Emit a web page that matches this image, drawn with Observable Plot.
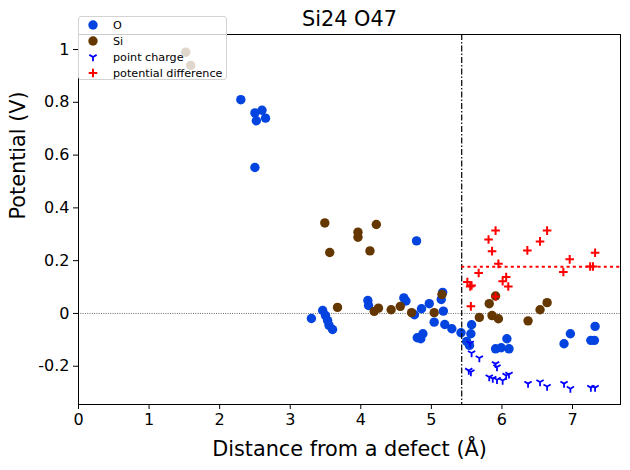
<!DOCTYPE html>
<html>
<head>
<meta charset="utf-8">
<script src="https://cdn.jsdelivr.net/npm/d3@7"></script>
<script src="https://cdn.jsdelivr.net/npm/@observablehq/plot@0.6"></script>
<style>
  body { margin: 0; background: #fff; font-family: "DejaVu Sans", sans-serif; }
  #wrap { position: relative; width: 630px; height: 470px; }
  .legend {
    position: absolute; left: 78px; top: 16px; width: 149px; height: 64px;
    box-sizing: border-box; background: rgba(255,255,255,0.8);
    border: 1px solid #d3d3d3; border-radius: 3px;
  }
  .legend svg { position: absolute; left: 0; top: 0; }
</style>
</head>
<body>
<div id="wrap"></div>
<script>
// Oxygen sites: distance from the defect (Å) and potential (V)
const oDist = [2.30, 2.50, 2.60, 2.52, 2.65, 2.50,
  3.30, 3.46, 3.50, 3.53, 3.55, 3.60, 4.10, 4.11, 4.79,
  4.61, 4.64, 4.76, 4.86, 4.97, 5.04, 5.16, 5.14, 5.17, 5.19, 5.29, 5.42,
  4.80, 4.88, 4.85,
  5.57, 5.56, 5.50, 5.54, 6.07, 5.91, 5.99, 6.10, 6.88, 6.97, 7.26, 7.31, 7.32];
const oPot = [0.81, 0.76, 0.77, 0.73, 0.74, 0.553,
  -0.019, 0.011, -0.008, -0.027, -0.045, -0.061, 0.049, 0.030, 0.275,
  0.059, 0.047, -0.005, 0.018, 0.037, -0.033, 0.080, 0.053, 0.009, -0.042, -0.058, -0.073,
  -0.092, -0.077, -0.096,
  -0.043, -0.077, -0.106, -0.121, -0.096, -0.134, -0.130, -0.134, -0.115, -0.077, -0.102, -0.102, -0.049];

// Silicon sites
const siDist = [1.52, 1.59, 3.49, 3.96, 3.96, 4.22, 3.56, 4.13,
  3.67, 4.19, 4.25, 4.43, 4.56, 4.72, 5.04, 5.15,
  5.68, 5.82, 5.86, 5.95, 5.91, 6.37, 6.54, 6.64];
const siPot = [0.99, 0.94, 0.343, 0.308, 0.289, 0.337, 0.231, 0.237,
  0.023, 0.008, 0.020, 0.014, 0.027, 0.003, 0.003, 0.072,
  -0.015, 0.037, -0.008, -0.020, 0.066, -0.028, 0.014, 0.041];

// Point-charge model outside the cutoff sphere
const chargeDist = [5.55, 5.57, 5.68, 5.53, 5.56, 5.91, 5.93, 5.82, 5.87, 5.93,
  6.01, 6.06, 6.10, 6.37, 6.54, 6.64, 6.88, 6.97, 7.26, 7.32];
const chargePot = [-0.113, -0.150, -0.169, -0.216, -0.222, -0.191, -0.203, -0.241, -0.247, -0.251,
  -0.254, -0.235, -0.231, -0.266, -0.260, -0.277, -0.266, -0.285, -0.281, -0.281];

// Difference between DFT potential and point-charge potential
const diffDist = [5.51, 5.55, 5.57, 5.56, 5.67, 5.81, 5.86, 5.91, 5.95, 5.91,
  6.01, 6.06, 6.09, 6.36, 6.54, 6.64, 6.87, 6.96, 7.25, 7.29, 7.32];
const diffPot = [0.119, 0.102, 0.106, 0.027, 0.153, 0.280, 0.236, 0.314, 0.188, 0.064,
  0.122, 0.138, 0.102, 0.239, 0.273, 0.314, 0.157, 0.205, 0.178, 0.178, 0.230];

const cutoff = 5.43;
const xTicks = [0, 1, 2, 3, 4, 5, 6, 7];
const yTicks = [-0.2, 0, 0.2, 0.4, 0.6, 0.8, 1];
const xMax = 7.68;

const toRows = (xs, ys) => xs.map((x, i) => ({x, y: ys[i]}));
const oRows = toRows(oDist, oPot);
const siRows = toRows(siDist, siPot);
const chargeRows = toRows(chargeDist, chargePot);
const diffRows = toRows(diffDist, diffPot);
const meanDiff = d3.mean(diffPot);

// stroke-only marker shapes
const plusSymbol = {
  draw(ctx, size) {
    const r = Math.sqrt(size / Math.PI);
    ctx.moveTo(-r, 0); ctx.lineTo(r, 0);
    ctx.moveTo(0, -r); ctx.lineTo(0, r);
  }
};
const triDownSymbol = {
  draw(ctx, size) {
    const r = Math.sqrt(size / Math.PI);
    ctx.moveTo(0, 0); ctx.lineTo(0, r);
    ctx.moveTo(0, 0); ctx.lineTo(-r * 0.866, -r * 0.5);
    ctx.moveTo(0, 0); ctx.lineTo(r * 0.866, -r * 0.5);
  }
};

const fmt = d => Math.abs(d) < 1e-9 ? "0" : (Number.isInteger(d) ? String(d) : d.toFixed(1));

const blueO = "#0343df", brownSi = "#653700";

const chart = Plot.plot({
  width: 630,
  height: 470,
  marginLeft: 78,
  marginRight: 10,
  marginTop: 34,
  marginBottom: 66,
  style: {fontFamily: "DejaVu Sans, sans-serif", background: "white", color: "black"},
  x: {domain: [0, xMax]},
  y: {domain: [-0.345, 1.057]},
  marks: [
    Plot.ruleY([0], {stroke: "black", strokeWidth: 0.6, strokeDasharray: "1,1.3"}),
    Plot.dot(oRows, {x: "x", y: "y", r: 4.7, fill: blueO}),
    Plot.dot(siRows, {x: "x", y: "y", r: 4.7, fill: brownSi}),
    Plot.dot(chargeRows, {x: "x", y: "y", r: 4.2, symbol: triDownSymbol, fill: "none", stroke: "blue", strokeWidth: 1.8}),
    Plot.dot(diffRows, {x: "x", y: "y", r: 4.3, symbol: plusSymbol, fill: "none", stroke: "red", strokeWidth: 2}),
    Plot.ruleX([cutoff], {stroke: "black", strokeWidth: 1.2, strokeDasharray: "6,2,1.5,2"}),
    Plot.ruleY([meanDiff], {x1: cutoff, x2: xMax, stroke: "red", strokeWidth: 2, strokeDasharray: "3,3.2"}),
    Plot.frame({stroke: "black", strokeWidth: 1}),
    Plot.axisX(xTicks, {tickSize: 5, tickPadding: 4, fontSize: 16, label: null, tickFormat: fmt}),
    Plot.axisY(yTicks, {tickSize: 5, tickPadding: 4, fontSize: 16, label: null, tickFormat: fmt}),
    Plot.text(["Distance from a defect (Å)"], {text: d => d, frameAnchor: "bottom", lineAnchor: "middle", dy: 45, fontSize: 20.8}),
    Plot.text(["Potential (V)"], {text: d => d, frameAnchor: "left", lineAnchor: "middle", dx: -60, rotate: -90, fontSize: 20.8}),
    Plot.text(["Si24 O47"], {text: d => d, frameAnchor: "top", lineAnchor: "middle", dy: -15, fontSize: 20.8})
  ]
});
document.getElementById("wrap").appendChild(chart);

// legend box in the upper-left corner
const legendItems = [
  {label: "O", kind: "circle", color: blueO},
  {label: "Si", kind: "circle", color: brownSi},
  {label: "point charge", kind: "tri", color: "blue"},
  {label: "potential difference", kind: "plus", color: "red"}
];
const legend = document.createElement("div");
legend.className = "legend";
document.getElementById("wrap").appendChild(legend);
const ls = d3.select(legend).append("svg").attr("width", 149).attr("height", 64);
legendItems.forEach((item, i) => {
  const cy = 8 + i * 16;
  const g = ls.append("g").attr("transform", `translate(14,${cy})`);
  if (item.kind === "circle") {
    g.append("circle").attr("r", 4.7).attr("fill", item.color);
  } else {
    const sym = item.kind === "tri" ? triDownSymbol : plusSymbol;
    const r = item.kind === "tri" ? 4.2 : 4.3;
    g.append("path").attr("d", d3.symbol(sym, Math.PI * r * r)())
      .attr("fill", "none").attr("stroke", item.color).attr("stroke-width", item.kind === "tri" ? 1.8 : 2);
  }
  ls.append("text").attr("x", 34).attr("y", cy).attr("dy", "0.35em")
    .attr("font-family", "DejaVu Sans, sans-serif").attr("font-size", 11.2).text(item.label);
});
</script>
</body>
</html>
